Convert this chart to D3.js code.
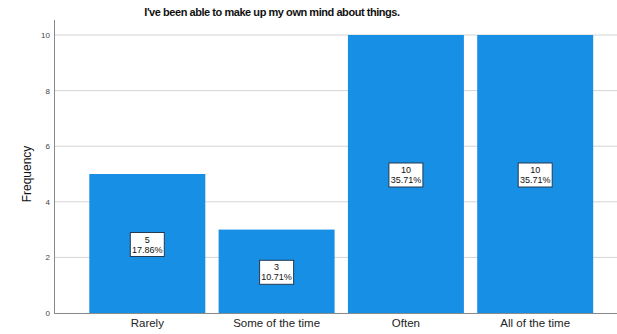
<!DOCTYPE html>
<html>
<head>
<meta charset="utf-8">
<script src="https://cdn.jsdelivr.net/npm/d3@7"></script>
<style>
  html, body { margin: 0; padding: 0; background: #fff; }
  svg { display: block; font-family: "Liberation Sans", Arial, sans-serif; }
</style>
</head>
<body>
<svg id="chart" width="617" height="334"></svg>
<script>
// Response categories and their counts
const categories = ["Rarely", "Some of the time", "Often", "All of the time"];
const counts = [5, 3, 10, 10];
const percentLabels = ["17.86%", "10.71%", "35.71%", "35.71%"];
const yTicks = [0, 2, 4, 6, 8, 10];

const svg = d3.select("#chart");
const plot = { left: 54, right: 617, top: 20, bottom: 313 };

const x = d3.scaleBand()
  .domain(categories)
  .range([82.65, 599.85])
  .paddingInner(0.103)
  .paddingOuter(0.0515);

const y = d3.scaleLinear()
  .domain([0, 10])
  .range([plot.bottom, 35]);

// Title
svg.append("text")
  .attr("x", 272)
  .attr("y", 16)
  .attr("text-anchor", "middle")
  .attr("font-size", 11)
  .attr("font-weight", "bold")
  .attr("letter-spacing", -0.45)
  .attr("fill", "#111")
  .text("I've been able to make up my own mind about things.");

// Horizontal grid lines
svg.append("g")
  .selectAll("line")
  .data(yTicks.filter(d => d > 0))
  .join("line")
  .attr("x1", plot.left)
  .attr("x2", plot.right)
  .attr("y1", d => y(d))
  .attr("y2", d => y(d))
  .attr("stroke", "#d4d4d4")
  .attr("stroke-width", 1);

// Y axis
const yAxis = svg.append("g")
  .attr("transform", `translate(${plot.left},0)`)
  .call(d3.axisLeft(y).tickValues(yTicks).tickSize(0).tickPadding(4).tickFormat(d3.format("d")));
yAxis.select(".domain").remove();
yAxis.selectAll("text")
  .attr("font-size", 8)
  .attr("fill", "#444")
  .attr("font-family", "'Liberation Sans', Arial, sans-serif");

svg.append("line")
  .attr("x1", plot.left + 0.5).attr("x2", plot.left + 0.5)
  .attr("y1", plot.top).attr("y2", plot.bottom)
  .attr("stroke", "#8a8a8a");

// Y label
svg.append("text")
  .attr("transform", `translate(31,${(plot.bottom + 35) / 2}) rotate(-90)`)
  .attr("text-anchor", "middle")
  .attr("font-size", 12)
  .attr("fill", "#111")
  .text("Frequency");

// Bars
svg.append("g")
  .selectAll("rect")
  .data(categories)
  .join("rect")
  .attr("x", d => x(d))
  .attr("width", x.bandwidth())
  .attr("y", (d, i) => y(counts[i]))
  .attr("height", (d, i) => y(0) - y(counts[i]))
  .attr("fill", "#168fe4");

// X axis labels and baseline
const xAxis = svg.append("g")
  .attr("transform", `translate(0,${plot.bottom})`)
  .call(d3.axisBottom(x).tickSize(0).tickPadding(6));
xAxis.select(".domain").remove();
xAxis.selectAll("text")
  .attr("font-size", 11.5)
  .attr("fill", "#222")
  .attr("font-family", "'Liberation Sans', Arial, sans-serif");

svg.append("line")
  .attr("x1", plot.left).attr("x2", plot.right)
  .attr("y1", plot.bottom + 0.5).attr("y2", plot.bottom + 0.5)
  .attr("stroke", "#8a8a8a");

// Boxed value labels at the middle of each bar
const lab = svg.append("g")
  .selectAll("g")
  .data(categories)
  .join("g")
  .attr("transform", (d, i) => `translate(${x(d) + x.bandwidth() / 2},${(y(counts[i]) + y(0)) / 2 + 1})`);

lab.append("rect")
  .attr("x", -17).attr("y", -12)
  .attr("width", 34).attr("height", 24)
  .attr("fill", "#fff")
  .attr("stroke", "#243b53")
  .attr("stroke-width", 1);

lab.append("text")
  .attr("text-anchor", "middle")
  .attr("y", -2)
  .attr("font-size", 9)
  .attr("fill", "#111")
  .text((d, i) => counts[i]);

lab.append("text")
  .attr("text-anchor", "middle")
  .attr("y", 8)
  .attr("font-size", 9)
  .attr("fill", "#111")
  .text((d, i) => percentLabels[i]);
</script>
</body>
</html>
